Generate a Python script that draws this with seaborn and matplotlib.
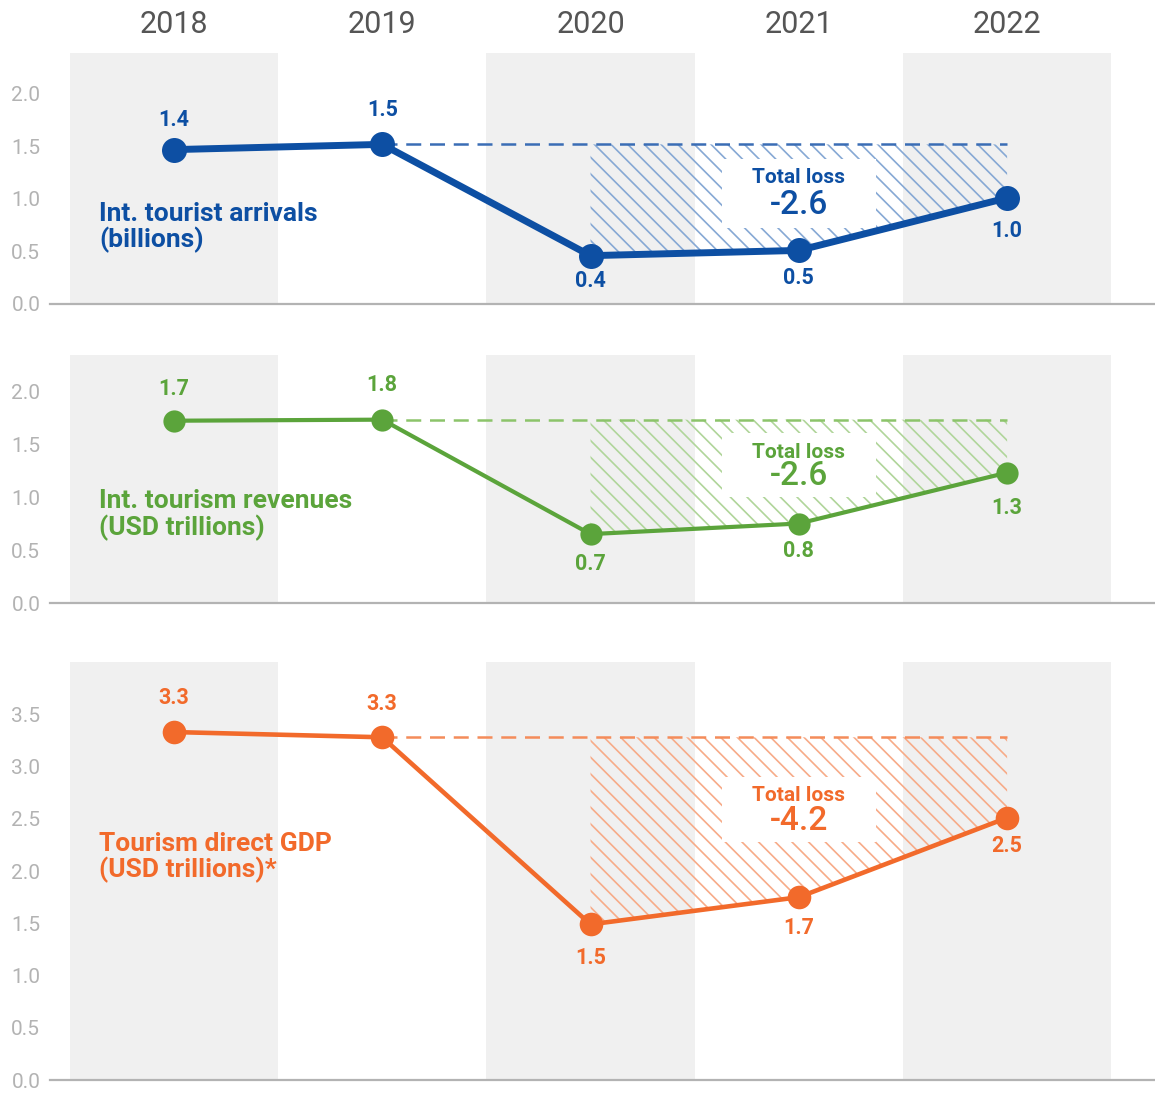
import numpy as np
import matplotlib
matplotlib.use("Agg")
import matplotlib.pyplot as plt
from matplotlib.patches import Rectangle
import seaborn as sns

# ---------------- data ----------------
years = ["2018", "2019", "2020", "2021", "2022"]

arrivals = [1.47, 1.52, 0.46, 0.51, 1.01]
arrivals_labels = ["1.4", "1.5", "0.4", "0.5", "1.0"]

revenues = [1.72, 1.73, 0.65, 0.75, 1.23]
revenues_labels = ["1.7", "1.8", "0.7", "0.8", "1.3"]

gdp = [3.33, 3.28, 1.49, 1.75, 2.51]
gdp_labels = ["3.3", "3.3", "1.5", "1.7", "2.5"]

series_names = ["Int. tourist arrivals\n(billions)",
                "Int. tourism revenues\n(USD trillions)",
                "Tourism direct GDP\n(USD trillions)*"]
total_losses = ["-2.6", "-2.6", "-4.2"]

# ---------------- style ----------------
sns.set_style("white")
plt.rcParams['font.family'] = ['Roboto', 'DejaVu Sans']
plt.rcParams['hatch.linewidth'] = 1.2

GRID = '#b3b3b3'
BAND = '#f0f0f0'

panels = [
    dict(vals=arrivals, labels=arrivals_labels, name=series_names[0], loss=total_losses[0],
         color='#0d4fa3', hatch='#86a8d4', dash='#3a6db5', lw=5, ms=18,
         ylim=2.39, yticks=np.arange(0, 2.01, 0.5), pos=[0.7219, 0.2296],
         name_y=0.73, loss_y=(1.2, 0.94), box=(0.72, 1.38),
         offs=[30, 34, -25, -28, -33]),
    dict(vals=revenues, labels=revenues_labels, name=series_names[1], loss=total_losses[1],
         color='#5ba43b', hatch='#b0d59a', dash='#8cc46a', lw=3, ms=16,
         ylim=2.34, yticks=np.arange(0, 2.01, 0.5), pos=[0.4483, 0.2269],
         name_y=0.83, loss_y=(1.42, 1.2), box=(1.0, 1.6),
         offs=[32, 35, -30, -27, -35]),
    dict(vals=gdp, labels=gdp_labels, name=series_names[2], loss=total_losses[2],
         color='#f26a2b', hatch='#f7ab88', dash='#f48c5a', lw=3.3, ms=17,
         ylim=4.0, yticks=np.arange(0, 3.51, 0.5), pos=[0.0118, 0.3825],
         name_y=2.13, loss_y=(2.72, 2.48), box=(2.28, 2.9),
         offs=[34, 33, -34, -31, -28]),
]

x = np.arange(len(years))

fig = plt.figure(figsize=(11.55, 10.93), dpi=100)
L = 50 / 1155
W = 1 - L

axes = []
for p in panels:
    ax = fig.add_axes([L, p['pos'][0], W, p['pos'][1]])
    axes.append(ax)
    vals = np.array(p['vals'])
    c = p['color']

    # grey column bands
    for i in (0, 2, 4):
        ax.axvspan(i - 0.5, i + 0.5, color=BAND, lw=0, zorder=0)

    # hatched loss area and dashed pre-crisis level
    base = vals[1]
    ax.fill_between(x[2:], vals[2:], base, facecolor='none', edgecolor=p['hatch'],
                    hatch='\\\\', lw=0, zorder=1)
    ax.plot(x[1:], [base] * 4, ls=(0, (6, 3.5)), color=p['dash'], lw=1.8, zorder=2)

    # white box for the total loss text
    ax.add_patch(Rectangle((3 - 0.37, p['box'][0]), 0.74, p['box'][1] - p['box'][0],
                           facecolor='white', edgecolor='none', zorder=3))
    ax.text(3, p['loss_y'][0], "Total loss", color=c, fontsize=15, fontweight='bold',
            ha='center', va='center', zorder=4)
    ax.text(3, p['loss_y'][1], p['loss'], color=c, fontsize=24, fontweight='medium',
            ha='center', va='center', zorder=4)

    # main line
    sns.lineplot(x=x, y=vals, ax=ax, color=c, linewidth=p['lw'], marker='o',
                 markersize=p['ms'], markeredgewidth=0, zorder=5)

    # value labels
    for xi, v, lab, off in zip(x, vals, p['labels'], p['offs']):
        ax.annotate(lab, (xi, v), xytext=(0, off), textcoords='offset pixels',
                    ha='center', va='center', color=c, fontsize=15.5,
                    fontweight='bold', zorder=6)

    # series name
    ax.text(-0.36, p['name_y'], p['name'], color=c, fontsize=19, fontweight='bold',
            ha='left', va='center', linespacing=1.05, zorder=6)

    ax.set_xlim(-0.595, 4.71)
    ax.set_ylim(0, p['ylim'])
    ax.set_yticks(p['yticks'])
    ax.set_yticklabels([f"{t:.1f}" for t in p['yticks']])
    ax.set_xticks(x)
    ax.set_xticklabels([])
    ax.tick_params(axis='y', length=0, labelsize=15, labelcolor=GRID, pad=7)
    ax.tick_params(axis='x', length=9, width=1.4, color=GRID, direction='out')
    for s in ('top', 'right', 'left'):
        ax.spines[s].set_visible(False)
    ax.spines['bottom'].set_color(GRID)
    ax.spines['bottom'].set_linewidth(1.6)
    ax.set_xlabel("")
    ax.set_ylabel("")

# year headers
for i, yr in enumerate(years):
    axes[0].text(i, 1.115, yr, transform=axes[0].get_xaxis_transform(), ha='center',
                 va='center', fontsize=22, color='#555555', clip_on=False)

fig.savefig("out.png", dpi=100)
